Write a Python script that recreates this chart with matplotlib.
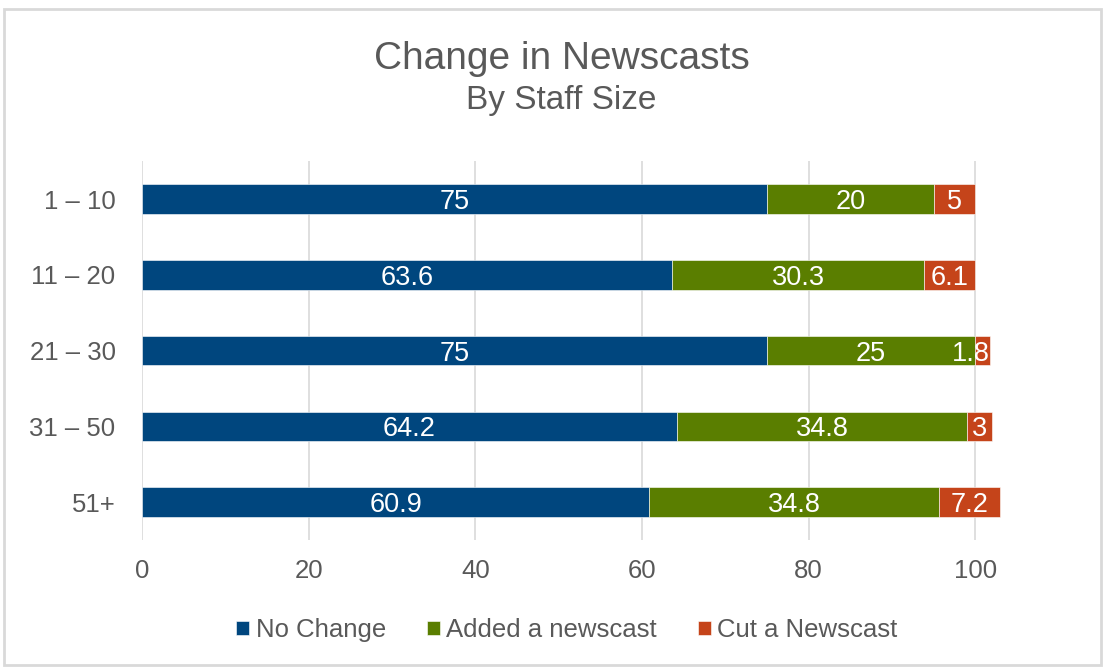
import matplotlib.pyplot as plt
from matplotlib.patches import Rectangle

plt.rcParams['font.family'] = ['Liberation Sans', 'DejaVu Sans']

# staff size groups and response shares (%)
groups = ["1 – 10", "11 – 20", "21 – 30", "31 – 50", "51+"]
no_change = [75, 63.6, 75, 64.2, 60.9]
added = [20, 30.3, 25, 34.8, 34.8]
cut = [5, 6.1, 1.8, 3, 7.2]

series = ["No Change", "Added a newscast", "Cut a Newscast"]
colors = ["#00467E", "#5A7E00", "#C5441A"]
text_grey = "#595959"

fig = plt.figure(figsize=(11.03, 6.69), dpi=100)
ax = fig.add_axes([0.1287, 0.193, 0.782, 0.566])

y = list(range(len(groups)))
left = [0] * len(groups)
for name, vals, col in zip(series, [no_change, added, cut], colors):
    bars = ax.barh(y, vals, left=left, height=0.39, color=col, label=name,
                   edgecolor="white", linewidth=0.4, zorder=3)
    for b, v in zip(bars, vals):
        yc = b.get_y() + b.get_height() / 2
        if b.get_width() < 2.5:
            # too narrow to centre: keep the label inside the end of the bar
            ax.text(b.get_x() + b.get_width() - 0.1, yc, f"{v:g}", ha="right",
                    va="center_baseline", color="white", fontsize=19.5, zorder=4)
        else:
            ax.text(b.get_x() + b.get_width() / 2, yc, f"{v:g}", ha="center",
                    va="center_baseline", color="white", fontsize=19.5, zorder=4)
    left = [l + v for l, v in zip(left, vals)]

ax.set_xlim(0, 103.5)
ax.set_ylim(len(groups) - 0.5, -0.5)
ax.set_xticks(range(0, 101, 20))
ax.set_yticks(y)
ax.set_yticklabels(groups)
ax.tick_params(axis="both", length=0, labelsize=18.5, labelcolor=text_grey)
ax.tick_params(axis="x", pad=14)
ax.tick_params(axis="y", pad=19)
ax.grid(axis="x", color="#D9D9D9", linewidth=1.2, zorder=0)
for s in ax.spines.values():
    s.set_visible(False)

fig.text(0.509, 0.912, "Change in Newscasts", ha="center", va="center",
         fontsize=28, color=text_grey)
fig.text(0.509, 0.850, "By Staff Size", ha="center", va="center",
         fontsize=24, color=text_grey)

leg = fig.legend(loc="center", bbox_to_anchor=(0.514, 0.058), ncol=3,
                 frameon=False, fontsize=18.5, handlelength=0.5,
                 handleheight=0.5, handletextpad=0.25, columnspacing=1.6,
                 labelcolor=text_grey)

# light frame around the whole chart
fig.patches.append(Rectangle((0.004, 0.006), 0.994, 0.981, transform=fig.transFigure,
                             fill=False, edgecolor="#D9D9D9", linewidth=2))

fig.savefig("out.png", dpi=100)
